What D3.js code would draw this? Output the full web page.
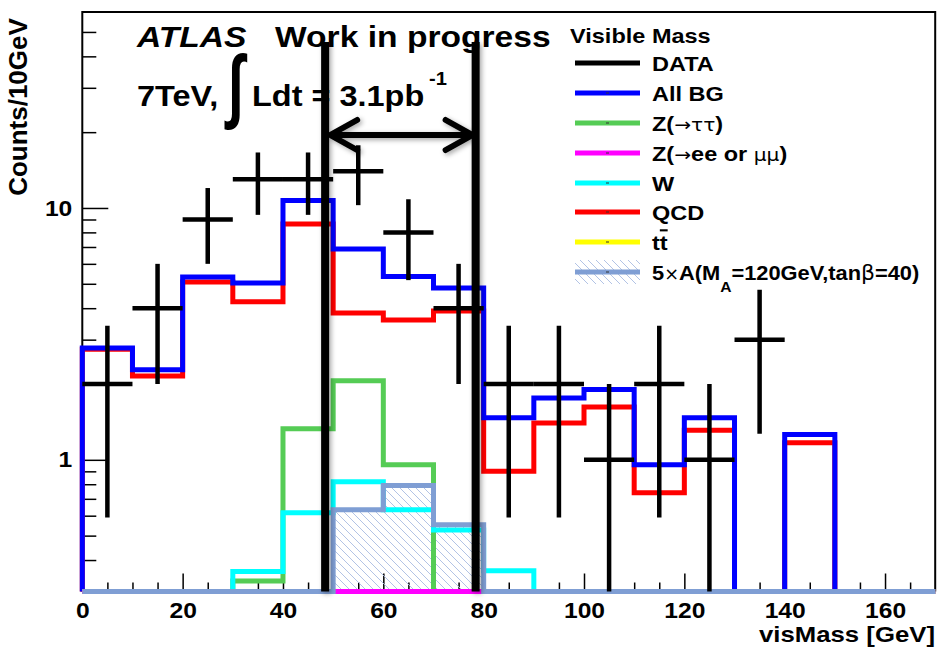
<!DOCTYPE html>
<html>
<head>
<meta charset="utf-8">
<script src="https://cdn.jsdelivr.net/npm/d3@7"></script>
<style>
  body { margin: 0; background: #fff; }
  svg text { font-family: "Liberation Sans", Arial, sans-serif; font-weight: bold; fill: #000; }
</style>
</head>
<body>
<svg id="chart" width="939" height="650"></svg>
<script>
// ---- histogram bins (lower edges, 10 GeV wide) ----
const binLow = [0, 10, 20, 30, 40, 50, 60, 70, 80, 90, 100, 110, 120, 130, 140, 150, 160];
const binWidth = 10;

// ---- observed events and their errors ----
const dataCounts = [2, 4, 9, 13, 13, 14, 8, 4, 2, 2, 1, 2, 1, 3, 0, 0, 0];
const dataErr    = [1.41, 2, 3, 3.61, 3.61, 3.74, 2.83, 2, 1.41, 1.41, 1, 1.41, 1, 1.73, 0, 0, 0];

// ---- background and signal expectations ----
const allBG   = [2.78, 2.28, 5.32, 5.04, 10.7, 6.87, 5.34, 4.81, 1.47, 1.76, 1.90, 0.955, 1.47, 0, 1.26, 0, 0];
const qcd     = [2.75, 2.15, 5.08, 4.24, 8.64, 3.83, 3.59, 3.90, 0.90, 1.40, 1.62, 0.74, 1.31, 0, 1.17, 0, 0];
const zTauTau = [0, 0, 0, 0.33, 1.33, 2.06, 0.955, 0.2, 0, 0, 0, 0, 0, 0, 0, 0, 0];
const zLL     = [0, 0, 0, 0, 0, 0.1, 0.1, 0.1, 0, 0, 0, 0, 0, 0, 0, 0, 0];
const wJets   = [0, 0, 0, 0.36, 0.616, 0.818, 0.633, 0.527, 0.363, 0, 0, 0, 0, 0, 0, 0, 0];
const ttbar   = [0, 0, 0, 0, 0, 0, 0, 0, 0, 0, 0, 0, 0, 0, 0, 0, 0];
const signalA = [0, 0, 0, 0, 0.1, 0.633, 0.79, 0.552, 0.1, 0, 0, 0, 0, 0, 0, 0, 0];

// ---- axis ticks ----
const xMajorTicks = [0, 20, 40, 60, 80, 100, 120, 140, 160];
const xMinorTicks = [5, 10, 15, 25, 30, 35, 45, 50, 55, 65, 70, 75, 85, 90, 95, 105, 110, 115, 125, 130, 135, 145, 150, 155, 165];
const yMajorTicks = [1, 10];
const yMinorTicks = [0.3, 0.4, 0.5, 0.6, 0.7, 0.8, 0.9, 2, 3, 4, 5, 6, 7, 8, 9, 20, 30, 40, 50];

// ---- mass window marked on the plot ----
const massWindow = [48.4, 78.4];
const arrowSpan  = [49.4, 77.8];

// ---- legend ----
const legendEntries = [
  { key: "data",  color: "#000000" },
  { key: "allbg", color: "#0000ff" },
  { key: "ztt",   color: "#55cc55" },
  { key: "zll",   color: "#ff00ff" },
  { key: "w",     color: "#00ffff" },
  { key: "qcd",   color: "#ff0000" },
  { key: "tt",    color: "#ffff00" },
  { key: "sig",   color: "#7f9ed4" }
];

const svg = d3.select("#chart");
const SX = 1.12; // horizontal glyph stretch

const xMin = 0, xMax = 170, yMin = 0.3, yMax = 60;
const frame = { left: 82.3, right: 935.2, top: 12, bottom: 591.5 };

const x = d3.scaleLinear().domain([xMin, xMax]).range([frame.left, frame.right]);
const y = d3.scaleLog().domain([yMin, yMax]).range([frame.bottom, frame.top]).clamp(true);
const yc = v => y(Math.max(v, yMin));

svg.append("rect").attr("width", 939).attr("height", 650).attr("fill", "#fff");

const defs = svg.append("defs");
const hatch = defs.append("pattern").attr("id", "hatch").attr("patternUnits", "userSpaceOnUse")
  .attr("width", 8).attr("height", 8);
hatch.append("path").attr("d", "M-2,-2L10,10M-2,6L2,10M6,-2L10,2")
  .attr("stroke", "#a9bce2").attr("stroke-width", 0.9).attr("fill", "none");
const shadow = defs.append("filter").attr("id", "shadow").attr("x", "-50%").attr("y", "-10%")
  .attr("width", "200%").attr("height", "120%");
shadow.append("feDropShadow").attr("dx", 2).attr("dy", 2).attr("stdDeviation", 2.5)
  .attr("flood-color", "#000").attr("flood-opacity", 0.35);

// ---- histogram outlines ----
function stepPoints(vals) {
  const pts = [[xMin, yMin]];
  vals.forEach((v, i) => {
    pts.push([binLow[i], v]);
    pts.push([binLow[i] + binWidth, v]);
  });
  pts.push([xMax, yMin]);
  return pts;
}
const stepLine = d3.line().x(d => x(d[0])).y(d => yc(d[1]));

// ---- frame and axes ----
svg.append("path")
  .attr("d", `M${frame.left},${frame.bottom}V${frame.top}H${frame.right}V${frame.bottom}`)
  .attr("fill", "none").attr("stroke", "#000").attr("stroke-width", 2);

function stretchLabels(sel) {
  sel.selectAll("text").each(function () {
    const t = d3.select(this);
    const tx = +t.attr("x") || 0;
    t.attr("x", tx / SX).attr("transform", `scale(${SX},1)`);
  });
}

const xAxisMajor = svg.append("g").attr("transform", `translate(0,${frame.bottom})`)
  .call(d3.axisBottom(x).tickValues(xMajorTicks).tickSizeInner(-18).tickSizeOuter(0).tickPadding(11)
    .tickFormat(d3.format("d")));
xAxisMajor.select(".domain").remove();
xAxisMajor.selectAll("line").attr("stroke", "#000").attr("stroke-width", 1.5);
xAxisMajor.selectAll("text").attr("font-size", 22).attr("font-family", null);
stretchLabels(xAxisMajor);

const xAxisMinor = svg.append("g").attr("transform", `translate(0,${frame.bottom})`)
  .call(d3.axisBottom(x).tickValues(xMinorTicks).tickSizeInner(-9).tickSizeOuter(0).tickFormat(""));
xAxisMinor.select(".domain").remove();
xAxisMinor.selectAll("line").attr("stroke", "#000").attr("stroke-width", 1.5);

const yAxisMajor = svg.append("g").attr("transform", `translate(${frame.left},0)`)
  .call(d3.axisLeft(y).tickValues(yMajorTicks).tickSizeInner(-26).tickSizeOuter(0).tickPadding(10)
    .tickFormat(d3.format("d")));
yAxisMajor.select(".domain").remove();
yAxisMajor.selectAll("line").attr("stroke", "#000").attr("stroke-width", 1.5);
yAxisMajor.selectAll("text").attr("font-size", 22).attr("font-family", null);
stretchLabels(yAxisMajor);

const yAxisMinor = svg.append("g").attr("transform", `translate(${frame.left},0)`)
  .call(d3.axisLeft(y).tickValues(yMinorTicks).tickSizeInner(-14).tickSizeOuter(0).tickFormat(""));
yAxisMinor.select(".domain").remove();
yAxisMinor.selectAll("line").attr("stroke", "#000").attr("stroke-width", 1.5);

// ---- histograms (drawn over the ticks, like the signal baseline on the axis) ----
const plotG = svg.append("g");

const sigArea = d3.area().x(d => x(d[0])).y0(frame.bottom).y1(d => yc(d[1]));
plotG.append("path").attr("d", sigArea(stepPoints(signalA))).attr("fill", "url(#hatch)");

const histOrder = [
  [qcd, "#ff0000"],
  [allBG, "#0000ff"],
  [zTauTau, "#55cc55"],
  [wJets, "#00ffff"],
  [ttbar, "#ffff00"],
  [zLL, "#ff00ff"],
  [signalA, "#7f9ed4"]
];
histOrder.forEach(([vals, col]) => {
  plotG.append("path").attr("d", stepLine(stepPoints(vals)))
    .attr("fill", "none").attr("stroke", col).attr("stroke-width", 5)
    .attr("stroke-linejoin", "miter").attr("stroke-linecap", "butt");
});

// ---- data crosses ----
const dataG = plotG.append("g").attr("stroke", "#000").attr("stroke-width", 4.5);
dataCounts.forEach((n, i) => {
  if (n <= 0) return;
  const c = binLow[i] + binWidth / 2;
  dataG.append("line").attr("x1", x(binLow[i])).attr("x2", x(binLow[i] + binWidth))
    .attr("y1", yc(n)).attr("y2", yc(n));
  dataG.append("line").attr("x1", x(c)).attr("x2", x(c))
    .attr("y1", yc(n + dataErr[i])).attr("y2", yc(n - dataErr[i]));
});

// ---- text helpers ----
function label(px, py, str, size, anchor, opts = {}) {
  const t = svg.append("text")
    .attr("transform", `translate(${px},${py}) scale(${opts.sx || SX},1)`)
    .attr("font-size", size)
    .attr("text-anchor", anchor || "start");
  if (opts.italic) t.attr("font-style", "italic");
  if (opts.weight) t.attr("font-weight", opts.weight);
  t.text(str);
  return t;
}

// axis titles
label(935, 642, "visMass [GeV]", 23, "end");
svg.append("text")
  .attr("transform", "translate(27,107) rotate(-90)")
  .attr("font-size", 26).attr("text-anchor", "middle")
  .text("Counts/10GeV");

// ---- plot annotations ----
label(137, 47, "ATLAS", 30, "start", { italic: true });
label(275, 47, "Work in progress", 30, "start");
label(137, 106, "7TeV,", 29, "start");
svg.append("text").attr("transform", "translate(228,112) scale(1,1.45)")
  .attr("font-size", 56).attr("font-weight", "normal")
  .attr("font-family", "DejaVu Sans").text("∫");
label(252, 106, "Ldt = 3.1pb", 29, "start");
label(429, 85, "-1", 18, "start");

// mass window lines and arrow (with soft drop shadow)
const annG = svg.append("g").attr("filter", "url(#shadow)");
massWindow.forEach(m => {
  annG.append("line").attr("x1", x(m)).attr("x2", x(m)).attr("y1", 42).attr("y2", frame.bottom)
    .attr("stroke", "#000").attr("stroke-width", 8);
});
const ay = 135;
const xa0 = x(arrowSpan[0]), xa1 = x(arrowSpan[1]);
annG.append("path")
  .attr("d", `M${xa0},${ay}H${xa1}M${xa0 + 27},${ay - 15}L${xa0},${ay}L${xa0 + 27},${ay + 15}` +
             `M${xa1 - 27},${ay - 15}L${xa1},${ay}L${xa1 - 27},${ay + 15}`)
  .attr("fill", "none").attr("stroke", "#000").attr("stroke-width", 6)
  .attr("stroke-linecap", "round").attr("stroke-linejoin", "round");

// ---- legend ----
const legX0 = 575, legX1 = 640, legTextX = 652;
const rowY = [63, 93, 123, 153, 183, 212, 242, 272];
label(570, 43, "Visible Mass", 21, "start");

const legG = svg.append("g");
legendEntries.forEach((e, i) => {
  const cy = rowY[i];
  if (e.key === "sig") {
    legG.append("rect").attr("x", legX0).attr("y", cy - 12).attr("width", legX1 - legX0)
      .attr("height", 24).attr("fill", "url(#hatch)");
  }
  legG.append("line").attr("x1", legX0).attr("x2", legX1).attr("y1", cy).attr("y2", cy)
    .attr("stroke", e.color).attr("stroke-width", 5);
  if (e.key !== "data") {
    legG.append("line").attr("x1", 606).attr("x2", 609).attr("y1", cy).attr("y2", cy)
      .attr("stroke", "#333").attr("stroke-width", 1);
  }
});

const sym = "DejaVu Sans";
function legendText(i, sx) {
  return svg.append("text")
    .attr("transform", `translate(${legTextX},${rowY[i] + 8}) scale(${sx || SX},1)`)
    .attr("font-size", 21);
}
legendText(0).text("DATA");
legendText(1).text("All BG");
{
  const t = legendText(2);
  t.append("tspan").text("Z(");
  t.append("tspan").attr("font-family", sym).attr("font-weight", "normal").attr("font-size", 18).text("→ττ");
  t.append("tspan").text(")");
}
{
  const t = legendText(3);
  t.append("tspan").text("Z(");
  t.append("tspan").attr("font-family", sym).attr("font-weight", "normal").attr("font-size", 18).text("→");
  t.append("tspan").text("ee or ");
  t.append("tspan").attr("font-family", sym).attr("font-weight", "normal").attr("font-size", 18).text("μμ");
  t.append("tspan").text(")");
}
legendText(4).text("W");
legendText(5).text("QCD");
{
  const t = legendText(6);
  t.append("tspan").text("t");
  t.append("tspan").attr("text-decoration", "overline").text("t");
}
{
  const t = legendText(7, 1.04);
  t.append("tspan").text("5");
  t.append("tspan").attr("font-family", sym).attr("font-weight", "normal").attr("font-size", 17).text("×");
  t.append("tspan").text("A(M");
  t.append("tspan").attr("font-size", 15).attr("dy", 12).text("A");
  t.append("tspan").attr("dy", -12).text("=120GeV,tan");
  t.append("tspan").attr("font-family", sym).attr("font-weight", "normal").text("β");
  t.append("tspan").text("=40)");
}
</script>
</body>
</html>
